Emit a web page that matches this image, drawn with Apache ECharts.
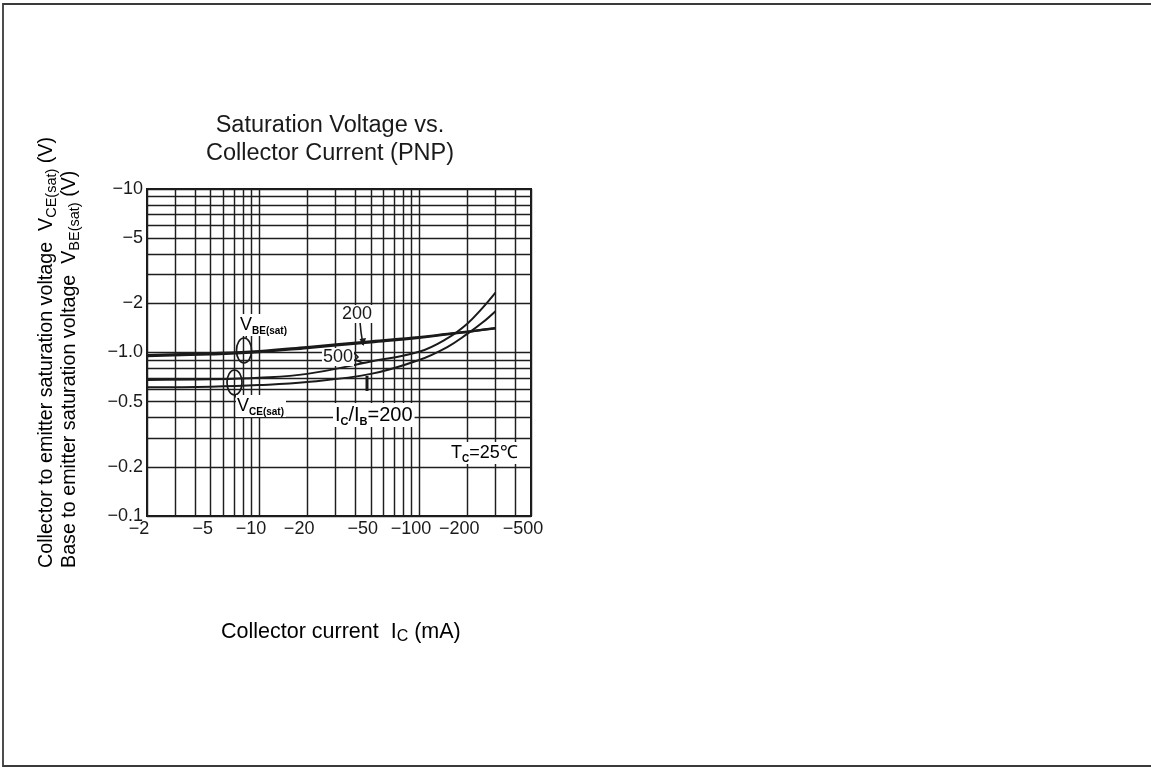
<!DOCTYPE html>
<html>
<head>
<meta charset="utf-8">
<script src="https://cdn.jsdelivr.net/npm/echarts@6/dist/echarts.min.js"></script>
<style>
  html, body { margin: 0; padding: 0; background: #fff; }
  #chart { width: 1151px; height: 770px; }
</style>
</head>
<body>
<div id="chart"></div>
<script>
// Collector current magnitude |I_C| in mA (PNP, so plotted as negative labels)
const currentMA = [2, 5, 10, 20, 50, 100, 150, 200, 250, 300];

// Base-emitter saturation voltage magnitude (V)
const vbeSatRatio200 = [0.965, 0.99, 1.02, 1.08, 1.17, 1.24, 1.30, 1.34, 1.38, 1.41];
const vbeSatRatio500 = [0.95, 0.975, 1.005, 1.065, 1.155, 1.23, 1.29, 1.335, 1.375, 1.405];

// Collector-emitter saturation voltage magnitude (V)
const vceSatRatio500 = [0.68, 0.685, 0.70, 0.74, 0.88, 1.01, 1.22, 1.50, 1.88, 2.32];
const vceSatRatio200 = [0.612, 0.618, 0.632, 0.66, 0.74, 0.90, 1.08, 1.30, 1.53, 1.79];

// Axis ticks and their printed labels
const xTickValues = [2, 5, 10, 20, 50, 100, 200, 500];
const xTickLabels = ['\u22122', '\u22125', '\u221210', '\u221220', '\u221250', '\u2212100', '\u2212200', '\u2212500'];
const yTickValues = [0.1, 0.2, 0.5, 1, 2, 5, 10];
const yTickLabels = ['\u22120.1', '\u22120.2', '\u22120.5', '\u22121.0', '\u22122', '\u22125', '\u221210'];

// Log-paper grid lines
const xGridValues = [2, 3, 4, 5, 6, 7, 8, 9, 10, 20, 30, 40, 50, 60, 70, 80, 90, 100, 200, 300, 400, 500];
const yGridValues = [0.1, 0.2, 0.3, 0.4, 0.5, 0.6, 0.7, 0.8, 0.9, 1, 2, 3, 4, 5, 6, 7, 8, 9, 10];

const FONT = '"Liberation Sans", Arial, Helvetica, sans-serif';
const INK = '#1a1a1a';

function labelFor(values, labels) {
  return function (v) {
    let best = 0;
    for (let i = 1; i < values.length; i++) {
      if (Math.abs(Math.log(values[i] / v)) < Math.abs(Math.log(values[best] / v))) best = i;
    }
    return labels[best];
  };
}

function pairs(ys) {
  return currentMA.map((x, i) => [x, ys[i]]);
}

const chart = echarts.init(document.getElementById('chart'), null, { renderer: 'canvas' });

const curveLine = (w) => ({ color: INK, width: w });

chart.setOption({
  animation: false,
  backgroundColor: '#fff',
  grid: {
    left: 147, right: 620, top: 189, bottom: 254,
    show: true, borderColor: INK, borderWidth: 2, backgroundColor: 'transparent'
  },
  xAxis: {
    type: 'log', logBase: 10, min: 2, max: 500,
    axisLine: { show: false },
    axisTick: { show: false },
    splitLine: { show: false },
    minorSplitLine: { show: false },
    axisLabel: {
      customValues: xTickValues,
      formatter: labelFor(xTickValues, xTickLabels),
      color: INK, fontFamily: FONT, fontSize: 18, margin: 4,
      padding: [0, 16, 0, 0]
    }
  },
  yAxis: {
    type: 'log', logBase: 10, min: 0.1, max: 10,
    axisLine: { show: false },
    axisTick: { show: false },
    splitLine: { show: false },
    minorSplitLine: { show: false },
    axisLabel: {
      customValues: yTickValues,
      formatter: labelFor(yTickValues, yTickLabels),
      color: INK, fontFamily: FONT, fontSize: 18, margin: 4
    }
  },
  series: [
    {
      name: 'grid',
      type: 'line',
      data: [],
      z: 1,
      silent: true,
      markLine: {
        silent: true,
        symbol: ['none', 'none'],
        label: { show: false },
        animation: false,
        lineStyle: { color: '#1e1e1e', width: 1.45, type: 'solid' },
        emphasis: { disabled: true },
        data: xGridValues.map(v => ({ xAxis: v })).concat(yGridValues.map(v => ({ yAxis: v })))
      }
    },
    { name: 'VBE(sat) IC/IB=200', type: 'line', data: pairs(vbeSatRatio200), smooth: 0.4, showSymbol: false, lineStyle: curveLine(2.3), z: 3 },
    { name: 'VBE(sat) IC/IB=500', type: 'line', data: pairs(vbeSatRatio500), smooth: 0.4, showSymbol: false, lineStyle: curveLine(2.3), z: 3 },
    { name: 'VCE(sat) IC/IB=500', type: 'line', data: pairs(vceSatRatio500), smooth: 0.4, showSymbol: false, lineStyle: curveLine(2), z: 3 },
    { name: 'VCE(sat) IC/IB=200', type: 'line', data: pairs(vceSatRatio200), smooth: 0.4, showSymbol: false, lineStyle: curveLine(2), z: 3 }
  ]
});

// Text and annotation layer
const subRich = {
  t: { fontFamily: FONT, fontSize: 18, color: INK, lineHeight: 22 },
  s: { fontFamily: FONT, fontSize: 10, fontWeight: 'bold', color: INK, verticalAlign: 'bottom', lineHeight: 14 }
};
const ratioRich = {
  t: { fontFamily: FONT, fontSize: 20, color: INK, lineHeight: 24 },
  s: { fontFamily: FONT, fontSize: 11, fontWeight: 'bold', color: INK, verticalAlign: 'bottom', lineHeight: 15 }
};
const yNameRich = {
  t: { fontFamily: FONT, fontSize: 19.7, color: INK, lineHeight: 24 },
  s: { fontFamily: FONT, fontSize: 14.5, color: INK, verticalAlign: 'bottom', lineHeight: 16 }
};
const xNameRich = {
  t: { fontFamily: FONT, fontSize: 21.5, color: INK, lineHeight: 26 },
  s: { fontFamily: FONT, fontSize: 16, color: INK, verticalAlign: 'bottom', lineHeight: 18 }
};

function text(x, y, str, opts) {
  return Object.assign({
    type: 'text', x: x, y: y, z: 20,
    style: Object.assign({
      text: str, fill: INK, font: '19px ' + FONT,
      textAlign: 'left', textVerticalAlign: 'middle'
    }, opts && opts.style)
  }, opts && opts.el);
}

chart.setOption({
  graphic: [
    // page frame
    { type: 'rect', shape: { x: 3, y: 4, width: 1160, height: 762 }, style: { fill: 'none', stroke: '#3a3a3a', lineWidth: 1.8 }, z: 0 },

    // title
    text(330, 126, 'Saturation Voltage vs.', { style: { font: '23.5px ' + FONT, textAlign: 'center' } }),
    text(330, 154, 'Collector Current (PNP)', { style: { font: '23.5px ' + FONT, textAlign: 'center' } }),

    // y axis name (two rotated lines)
    {
      type: 'text', x: 47, y: 568, rotation: Math.PI / 2, z: 20,
      style: { text: '{t|Collector to emitter saturation voltage  V}{s|CE(sat)}{t| (V)}', rich: yNameRich, textAlign: 'left', textVerticalAlign: 'middle' }
    },
    {
      type: 'text', x: 70, y: 568, rotation: Math.PI / 2, z: 20,
      style: { text: '{t|Base to emitter saturation voltage  V}{s|BE(sat)}{t| (V)}', rich: yNameRich, textAlign: 'left', textVerticalAlign: 'middle' }
    },

    // x axis name
    {
      type: 'text', x: 221, y: 632, z: 20,
      style: { text: '{t|Collector current  I}{s|C}{t| (mA)}', rich: xNameRich, textAlign: 'left', textVerticalAlign: 'middle' }
    },

    // curve family labels
    {
      type: 'text', x: 239, y: 325, z: 20,
      style: { text: '{t|V}{s|BE(sat)}', rich: subRich, textAlign: 'left', textVerticalAlign: 'middle', backgroundColor: '#fff', padding: [0, 2, 0, 1] }
    },
    {
      type: 'text', x: 236, y: 406, z: 20,
      style: { text: '{t|V}{s|CE(sat)}', rich: subRich, textAlign: 'left', textVerticalAlign: 'middle', backgroundColor: '#fff', padding: [0, 2, 0, 1] }
    },
    { type: 'ellipse', shape: { cx: 244, cy: 350.5, rx: 7.5, ry: 12.5 }, style: { fill: 'none', stroke: INK, lineWidth: 1.7 }, z: 15 },
    { type: 'ellipse', shape: { cx: 234.5, cy: 382.5, rx: 7.5, ry: 12.5 }, style: { fill: 'none', stroke: INK, lineWidth: 1.7 }, z: 15 },
    { type: 'line', shape: { x1: 246, y1: 338, x2: 247, y2: 333 }, style: { stroke: INK, lineWidth: 1.4 }, z: 15 },
    { type: 'line', shape: { x1: 235, y1: 395, x2: 237, y2: 399 }, style: { stroke: INK, lineWidth: 1.4 }, z: 15 },

    // IC/IB ratio annotations
    text(357, 314, '200', { style: { font: '18px ' + FONT, textAlign: 'center', backgroundColor: '#fff', padding: [0, 1] } }),
    { type: 'polyline', shape: { points: [[360, 322], [361, 332], [363, 345]] }, style: { stroke: INK, lineWidth: 1.6, fill: 'none' }, z: 15 },
    { type: 'polygon', shape: { points: [[359.5, 339], [366, 338], [363.5, 346]] }, style: { fill: INK }, z: 15 },

    text(354, 357, '500', { style: { font: '18px ' + FONT, textAlign: 'right', backgroundColor: '#fff', padding: [0, 1] } }),
    { type: 'polyline', shape: { points: [[354, 353], [358, 357], [355, 360], [363, 363]] }, style: { stroke: INK, lineWidth: 1.6, fill: 'none' }, z: 15 },

    {
      type: 'text', x: 333, y: 415, z: 20,
      style: { text: '{t|I}{s|C}{t|/I}{s|B}{t|=200}', rich: ratioRich, textAlign: 'left', textVerticalAlign: 'middle', backgroundColor: '#fff', padding: [0, 2] }
    },
    { type: 'line', shape: { x1: 367, y1: 391, x2: 367, y2: 376 }, style: { stroke: INK, lineWidth: 3 }, z: 15 },

    {
      type: 'text', x: 449, y: 453, z: 20,
      style: { text: '{t|T}{s|C}{t|=25\u2103}', rich: subRich, textAlign: 'left', textVerticalAlign: 'middle', backgroundColor: '#fff', padding: [0, 2] }
    }
  ]
});
</script>
</body>
</html>
